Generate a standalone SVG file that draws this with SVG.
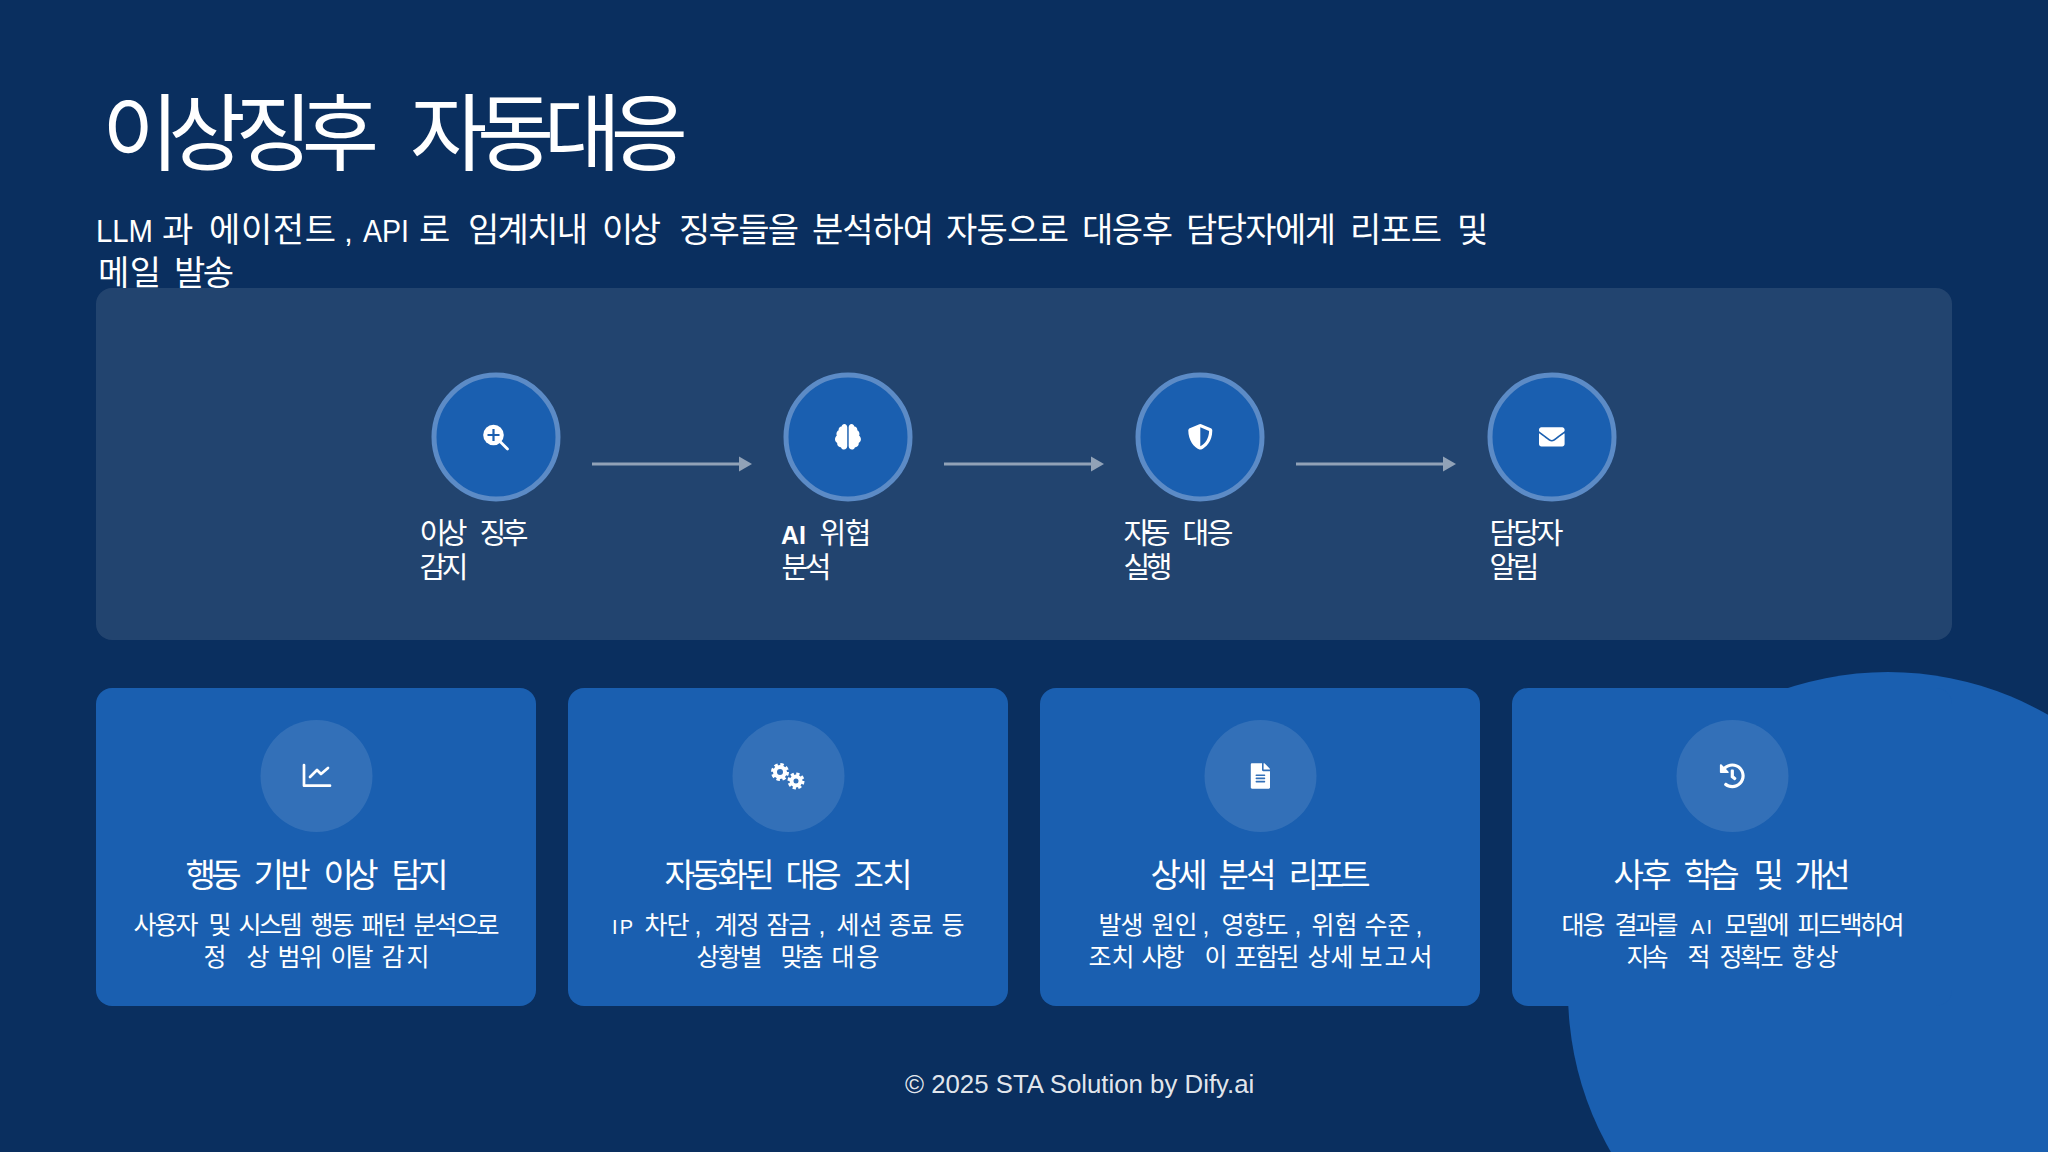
<svg xmlns="http://www.w3.org/2000/svg" width="2048" height="1152" viewBox="0 0 2048 1152">
<style>
text{font-family:"Liberation Sans","Noto Sans CJK KR",sans-serif;fill:#fff}
.title{font-size:84px}
.sub{font-size:34px}
.lat{font-size:32px}
.lab{font-size:29px}
.ct{font-size:33px}
.cd{font-size:25px}
.sm{font-size:20px}
.card{fill:#1a5fb0}
.ic{fill:#fff;fill-opacity:.11}
.st{fill:#1a5fb0;stroke:#5c8bc6;stroke-width:5}
.ln{stroke:#fff;stroke-opacity:.5;stroke-width:3;fill:none}
.w{fill:#fff}
</style>
<defs>
<marker id="ah" markerUnits="userSpaceOnUse" markerWidth="13" markerHeight="16" refX="0" refY="8" orient="auto"><path d="M0 0.500L13 8L0 15.500Z" fill="#fff" fill-opacity=".5"/></marker>
</defs>
<rect width="2048" height="1152" fill="#0a2f5f"/>
<circle cx="1888" cy="992" r="320" fill="#1a5fb0"/>
<text class="title" y="163.500"><tspan x="102" textLength="277">이상징후</tspan> <tspan x="410" textLength="278">자동대응</tspan></text>
<text class="sub" y="242"><tspan class="lat" x="96" textLength="57" lengthAdjust="spacingAndGlyphs">LLM</tspan> <tspan x="162">과</tspan> <tspan x="209" textLength="127">에이전트</tspan> <tspan class="lat" x="344">,</tspan> <tspan class="lat" x="363" textLength="46" lengthAdjust="spacingAndGlyphs">API</tspan> <tspan x="419">로</tspan> <tspan x="468" textLength="120">임계치내</tspan> <tspan x="602" textLength="59">이상</tspan> <tspan x="679" textLength="120">징후들을</tspan> <tspan x="812" textLength="122">분석하여</tspan> <tspan x="946" textLength="123">자동으로</tspan> <tspan x="1082" textLength="91">대응후</tspan> <tspan x="1186" textLength="150">담당자에게</tspan> <tspan x="1350" textLength="92">리포트</tspan> <tspan x="1457">및</tspan></text>
<text class="sub" y="285"><tspan x="98" textLength="63">메일</tspan> <tspan x="174" textLength="60">발송</tspan></text>
<rect x="96" y="288" width="1856" height="352" rx="16" fill="#fff" fill-opacity=".1"/>
<g id="connectors">
<path class="ln" d="M592 464H739" marker-end="url(#ah)"/>
<path class="ln" d="M944 464H1091" marker-end="url(#ah)"/>
<path class="ln" d="M1296 464H1443" marker-end="url(#ah)"/>
</g>
<g id="step1"><circle class="st" cx="496" cy="437" r="62"/>
<circle class="w" cx="493.500" cy="435" r="10.300"/><path d="M487.500 435h12M493.500 429v12" stroke="#1a5fb0" stroke-width="2.200"/><path d="M500.500 442L507.500 449" stroke="#fff" stroke-width="2.800" stroke-linecap="round"/>
<text class="lab" y="544"><tspan x="419.500" textLength="48">이상</tspan> <tspan x="479.500" textLength="49">징후</tspan></text><text class="lab" y="578"><tspan x="419.500" textLength="49">감지</tspan></text></g>
<g id="step2"><circle class="st" cx="848" cy="437" r="62"/>
<path class="w" transform="translate(835 424) scale(.045 .05)" d="M208 0c-29.900 0-54.700 20.500-61.800 48.200-.8 0-1.400-.2-2.200-.2-35.300 0-64 28.700-64 64 0 4.800.6 9.500 1.700 14C52.500 138 32 166.600 32 200c0 12.600 3.200 24.300 8.300 34.900C16.300 248.700 0 274.300 0 304c0 33.300 20.400 61.900 49.400 73.900-.9 4.600-1.400 9.300-1.400 14.100 0 39.800 32.200 72 72 72 4.100 0 8.100-.5 12-1.200 9.600 28.500 36.200 49.200 68 49.200 39.800 0 72-32.200 72-72V64c0-35.300-28.700-64-64-64zm368 304c0-29.700-16.300-55.300-40.300-69.100 5.200-10.600 8.300-22.300 8.300-34.900 0-33.400-20.500-62-49.700-74 1-4.500 1.700-9.200 1.700-14 0-35.300-28.700-64-64-64-.8 0-1.500.2-2.200.2C422.700 20.500 397.900 0 368 0c-35.300 0-64 28.600-64 64v376c0 39.800 32.200 72 72 72 31.800 0 58.400-20.700 68-49.200 3.900.7 7.900 1.200 12 1.200 39.800 0 72-32.200 72-72 0-4.800-.5-9.500-1.400-14.100 29-12 49.400-40.600 49.400-73.900z"/>
<text class="lab" y="544"><tspan x="781" font-size="25" font-weight="700">AI</tspan> <tspan x="819.500" textLength="52">위협</tspan></text><text class="lab" y="578"><tspan x="781.500" textLength="50">분석</tspan></text></g>
<g id="step3"><circle class="st" cx="1200" cy="437" r="62"/>
<path class="w" transform="translate(1187.500 424) scale(.05)" d="M466.500 83.700l-192-80a48.150 48.150 0 0 0-36.900 0l-192 80C27.700 91.100 16 108.600 16 128c0 198.500 114.500 335.700 221.500 380.300 11.800 4.900 25.100 4.900 36.900 0C360.100 472.600 496 349.300 496 128c0-19.400-11.700-36.900-29.500-44.300zM256.100 446.300l-.1-381 175.900 73.300c-3.300 151.400-82.100 261.100-175.800 307.700z"/>
<text class="lab" y="544"><tspan x="1123.500" textLength="47">자동</tspan> <tspan x="1182.500" textLength="51">대응</tspan></text><text class="lab" y="578"><tspan x="1123.500" textLength="49">실행</tspan></text></g>
<g id="step4"><circle class="st" cx="1552" cy="437" r="62"/>
<path class="w" transform="translate(1539 424) scale(.05)" d="M502.300 190.800c3.900-3.100 9.700-.2 9.700 4.700V400c0 26.500-21.500 48-48 48H48c-26.500 0-48-21.500-48-48V195.600c0-5 5.700-7.800 9.700-4.700 22.400 17.400 52.100 39.500 154.100 113.600 21.100 15.400 56.700 47.800 92.200 47.600 35.700.3 72-32.800 92.300-47.600 102-74.100 131.600-96.300 154-113.700zM256 320c23.200.4 56.600-29.200 73.400-41.400 132.700-96.300 142.800-104.700 173.400-128.700 5.800-4.500 9.200-11.500 9.200-18.900v-19c0-26.500-21.500-48-48-48H48C21.500 64 0 85.500 0 112v19c0 7.400 3.400 14.300 9.200 18.900 30.600 23.900 40.700 32.400 173.400 128.700 16.800 12.200 50.200 41.800 73.400 41.400z"/>
<text class="lab" y="544"><tspan x="1489.500" textLength="74">담당자</tspan></text><text class="lab" y="578"><tspan x="1489.500" textLength="50">알림</tspan></text></g>
<g id="card1"><rect class="card" x="96" y="688" width="440" height="318" rx="16"/><circle class="ic" cx="316.500" cy="776" r="56"/>
<path d="M304 765V785.700H330M310 777L317 770L321 774L328 768" fill="none" stroke="#fff" stroke-width="2.700" stroke-linecap="round" stroke-linejoin="round"/>
<text class="ct" y="886.500"><tspan x="185.500" textLength="56">행동</tspan> <tspan x="253.500" textLength="57">기반</tspan> <tspan x="323.500" textLength="55">이상</tspan> <tspan x="391.500" textLength="57">탐지</tspan></text>
<text class="cd" y="934"><tspan x="133.500" textLength="65">사용자</tspan> <tspan x="208.500">및</tspan> <tspan x="238.500" textLength="64">시스템</tspan> <tspan x="310.500" textLength="44">행동</tspan> <tspan x="361.500" textLength="45">패턴</tspan> <tspan x="413.500" textLength="86">분석으로</tspan></text>
<text class="cd" y="966"><tspan x="203.500">정</tspan> <tspan x="246.500">상</tspan> <tspan x="277.500" textLength="45">범위</tspan> <tspan x="330.500" textLength="43">이탈</tspan> <tspan x="381.500" textLength="48">감지</tspan></text></g>
<g id="card2"><rect class="card" x="568" y="688" width="440" height="318" rx="16"/><circle class="ic" cx="788.500" cy="776" r="56"/>
<circle cx="780" cy="772" r="5" fill="none" stroke="#fff" stroke-width="4"/><circle cx="780" cy="772" r="7.500" fill="none" stroke="#fff" stroke-width="3" stroke-dasharray="3.400 2.500"/>
<circle cx="796" cy="781" r="4.500" fill="none" stroke="#fff" stroke-width="4"/><circle cx="796" cy="781" r="7" fill="none" stroke="#fff" stroke-width="3" stroke-dasharray="3.200 2.300"/>
<text class="ct" y="886.500"><tspan x="664.500" textLength="110">자동화된</tspan> <tspan x="785.500" textLength="56">대응</tspan> <tspan x="853.500" textLength="59">조치</tspan></text>
<text class="cd" y="934"><tspan class="sm" x="612" textLength="21">IP</tspan> <tspan x="644.500" textLength="45">차단</tspan> <tspan x="694.500">,</tspan> <tspan x="714.500" textLength="45">계정</tspan> <tspan x="766.500" textLength="45">잠금</tspan> <tspan x="818.500">,</tspan> <tspan x="836.500" textLength="46">세션</tspan> <tspan x="888.500" textLength="45">종료</tspan> <tspan x="941.500">등</tspan></text>
<text class="cd" y="966"><tspan x="696.500" textLength="66">상황별</tspan> <tspan x="780.500" textLength="43">맞춤</tspan> <tspan x="831.500" textLength="48">대응</tspan></text></g>
<g id="card3"><rect class="card" x="1040" y="688" width="440" height="318" rx="16"/><circle class="ic" cx="1260.500" cy="776" r="56"/>
<path class="w" transform="translate(1250.800 763.200) scale(.05)" d="M224 136V0H24C10.700 0 0 10.700 0 24v464c0 13.300 10.700 24 24 24h336c13.300 0 24-10.700 24-24V160H248c-13.200 0-24-10.800-24-24zm64 236c0 6.600-5.400 12-12 12H108c-6.600 0-12-5.400-12-12v-8c0-6.600 5.400-12 12-12h168c6.600 0 12 5.400 12 12v8zm0-64c0 6.600-5.400 12-12 12H108c-6.600 0-12-5.400-12-12v-8c0-6.600 5.400-12 12-12h168c6.600 0 12 5.400 12 12v8zm0-72v8c0 6.600-5.400 12-12 12H108c-6.600 0-12-5.400-12-12v-8c0-6.600 5.400-12 12-12h168c6.600 0 12 5.400 12 12zm96-114.100v6.100H256V0h6.100c6.400 0 12.500 2.500 17 7l97.900 98c4.500 4.500 7 10.600 7 16.900z"/>
<text class="ct" y="886.500"><tspan x="1150.500" textLength="57">상세</tspan> <tspan x="1218.500" textLength="58">분석</tspan> <tspan x="1288.500" textLength="82">리포트</tspan></text>
<text class="cd" y="934"><tspan x="1098.500" textLength="45">발생</tspan> <tspan x="1151.500" textLength="46">원인</tspan> <tspan x="1202.500">,</tspan> <tspan x="1221.500" textLength="67">영향도</tspan> <tspan x="1294.500">,</tspan> <tspan x="1311.500" textLength="46">위험</tspan> <tspan x="1364.500" textLength="46">수준</tspan> <tspan x="1415.500">,</tspan></text>
<text class="cd" y="966"><tspan x="1088.500" textLength="46">조치</tspan> <tspan x="1141.500" textLength="43">사항</tspan> <tspan x="1204.500">이</tspan> <tspan x="1234.500" textLength="65">포함된</tspan> <tspan x="1307.500" textLength="46">상세</tspan> <tspan x="1359.500" textLength="73">보고서</tspan></text></g>
<g id="card4"><rect class="card" x="1512" y="688" width="440" height="318" rx="16"/><circle class="ic" cx="1732.500" cy="776" r="56"/>
<path class="w" transform="translate(1719.500 763) scale(.05)" d="M504 255.531c.253 136.640-111.180 248.372-247.820 248.468-59.015.042-113.223-20.530-155.822-54.911-11.077-8.940-11.905-25.541-1.839-35.607l11.267-11.267c8.609-8.609 22.353-9.551 31.891-1.984C173.062 425.135 212.781 440 256 440c101.705 0 184-82.311 184-184 0-101.705-82.311-184-184-184-48.814 0-93.149 18.969-126.068 49.932l50.754 50.754c10.080 10.080 2.941 27.314-11.313 27.314H24c-8.837 0-16-7.163-16-16V38.627c0-14.254 17.234-21.393 27.314-11.314l49.372 49.372C129.209 34.136 189.552 8 256 8c136.810 0 247.747 110.780 248 247.531zm-180.912 78.784l9.823-12.630c8.138-10.463 6.253-25.542-4.210-33.679L288 256.349V152c0-13.255-10.745-24-24-24h-16c-13.255 0-24 10.745-24 24v135.651l65.409 50.874c10.463 8.137 25.541 6.253 33.679-4.210z"/>
<text class="ct" y="886.500"><tspan x="1613.500" textLength="58">사후</tspan> <tspan x="1683.500" textLength="56">학습</tspan> <tspan x="1753.500">및</tspan> <tspan x="1794.500" textLength="56">개선</tspan></text>
<text class="cd" y="934"><tspan x="1561.500" textLength="44">대응</tspan> <tspan x="1614.500" textLength="64">결과를</tspan> <tspan class="sm" x="1691" textLength="21">AI</tspan> <tspan x="1724.500" textLength="65">모델에</tspan> <tspan x="1797.500" textLength="107">피드백하여</tspan></text>
<text class="cd" y="966"><tspan x="1626.500" textLength="42">지속</tspan> <tspan x="1687.500">적</tspan> <tspan x="1719.500" textLength="64">정확도</tspan> <tspan x="1791.500" textLength="47">향상</tspan></text></g>
<text x="905" y="1093" font-size="25.800" fill-opacity=".9">© 2025 STA Solution by Dify.ai</text>
</svg>
